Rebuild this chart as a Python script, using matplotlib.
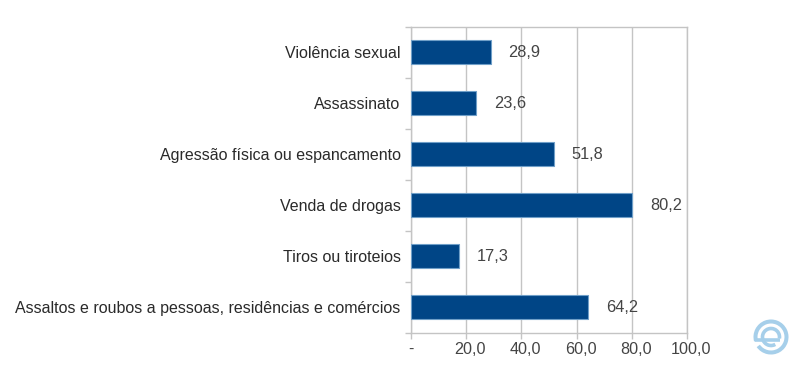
import matplotlib
matplotlib.use('Agg')
import matplotlib.pyplot as plt
from matplotlib.patches import Arc
from matplotlib.transforms import ScaledTranslation

categorias = ['Violência sexual', 'Assassinato', 'Agressão física ou espancamento',
              'Venda de drogas', 'Tiros ou tiroteios',
              'Assaltos e roubos a pessoas, residências e comércios']
valores = [28.9, 23.6, 51.8, 80.2, 17.3, 64.2]
rotulos = ['28,9', '23,6', '51,8', '80,2', '17,3', '64,2']
ticks_x = [0, 20, 40, 60, 80, 100]
ticks_x_nomes = ['-', '20,0', '40,0', '60,0', '80,0', '100,0']

plt.rcParams['font.family'] = 'Liberation Sans'
cinza = '#c4c4c4'
texto = '#444444'

fig = plt.figure(figsize=(8, 3.67), dpi=100)
ax = fig.add_axes([411 / 800, 1 - 332.5 / 367, 276 / 800, 306 / 367])

pos = list(range(len(categorias)))
ax.barh(pos, valores, height=0.49, color='#004586', edgecolor='#6f9fc8', linewidth=0.8, zorder=3)
for p, v, r in zip(pos, valores, rotulos):
    ax.text(v + 6.4, p + 0.01, r, va='center', ha='left', fontsize=11.8, color=texto, zorder=4)

ax.set_xlim(0, 100)
ax.set_ylim(len(categorias) - 0.5, -0.5)
ax.set_xticks(ticks_x)
ax.set_xticklabels(ticks_x_nomes, fontsize=11.6, color=texto)
ax.set_yticks(pos)
ax.set_yticklabels(categorias, fontsize=11.55, color='#2a2a2a')
ax.set_yticks([p + 0.5 for p in pos[:-1]] + [-0.5, len(categorias) - 0.5], minor=True)
ax.tick_params(axis='y', which='major', length=0, pad=7.5)
ax.tick_params(axis='y', which='minor', length=4.5, width=1, color=cinza)
ax.tick_params(axis='x', length=4.5, width=1, color=cinza, pad=2.5)
ax.grid(axis='x', color=cinza, linewidth=1, zorder=0)
for s in ax.spines.values():
    s.set_color(cinza)
    s.set_linewidth(1)

# os numeros ficam um pouco a direita do tick, menos o "-"
desloc = ScaledTranslation(4 / 100, 0, fig.dpi_scale_trans)
for lab in ax.get_xticklabels()[1:]:
    lab.set_transform(lab.get_transform() + desloc)

# logo no canto
logo = fig.add_axes([751 / 800, 1 - 357 / 367, 40 / 800, 40 / 367])
logo.set_xlim(-20, 20)
logo.set_ylim(-20, 20)
logo.axis('off')
azul = '#a6cfea'
logo.add_patch(Arc((0, 0), 31, 31, theta1=215, theta2=195, color=azul, linewidth=2.9))
logo.add_patch(Arc((0, 0), 17, 17, theta1=-10, theta2=300, color=azul, linewidth=2.6))
logo.plot([-16, 8.5], [-3, -3], color=azul, linewidth=2.6, solid_capstyle='butt')

fig.savefig('out.png', dpi=100)
